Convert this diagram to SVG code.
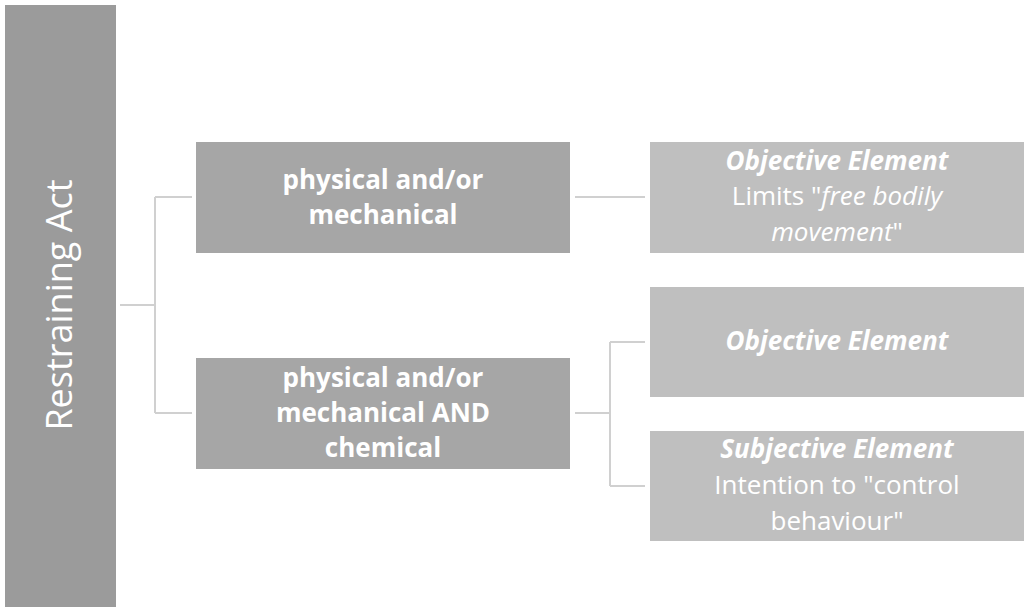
<svg xmlns="http://www.w3.org/2000/svg" width="1029" height="612" viewBox="0 0 1029 612">
<style>
text{font-family:"Open Sans","Liberation Sans",sans-serif;fill:#fff;text-anchor:middle}
.m{font-weight:bold;font-size:26px}
.r{font-size:26px}
.c{stroke:#d0d0d0;stroke-width:2;fill:none}
</style>
<rect width="1029" height="612" fill="#fff"/>
<g id="root"><rect x="5" y="5" width="111" height="602" fill="#9b9b9b"/>
<text transform="translate(72,305) rotate(-90)" font-size="36">Restraining Act</text></g>
<g id="connectors">
<path class="c" d="M120 305H155M155 197V413M155 197H192M155 413H192"/>
<path class="c" d="M575 197H645"/>
<path class="c" d="M575 413H610M610 342V486M610 342H645M610 486H645"/>
</g>
<g id="m1"><rect x="196" y="142" width="374" height="111" fill="#a6a6a6"/>
<text class="m" x="383" y="189">physical and/or</text><text class="m" x="383" y="224">mechanical</text></g>
<g id="m2"><rect x="196" y="358" width="374" height="111" fill="#a6a6a6"/>
<text class="m" x="383" y="387">physical and/or</text><text class="m" x="383" y="422">mechanical AND</text><text class="m" x="383" y="457">chemical</text></g>
<g id="r1"><rect x="650" y="142" width="374" height="111" fill="#bfbfbf"/>
<text class="r" x="837" y="170" font-weight="bold" font-style="italic">Objective Element</text>
<text class="r" x="837" y="205">Limits "<tspan font-style="italic">free bodily</tspan></text>
<text class="r" x="837" y="241"><tspan font-style="italic">movement</tspan>"</text></g>
<g id="r2"><rect x="650" y="287" width="374" height="110" fill="#bfbfbf"/>
<text class="r" x="837" y="350" font-weight="bold" font-style="italic">Objective Element</text></g>
<g id="r3"><rect x="650" y="431" width="374" height="110" fill="#bfbfbf"/>
<text class="r" x="837" y="458" font-weight="bold" font-style="italic">Subjective Element</text>
<text class="r" x="837" y="494">Intention to "control</text>
<text class="r" x="837" y="530">behaviour"</text></g>
</svg>
